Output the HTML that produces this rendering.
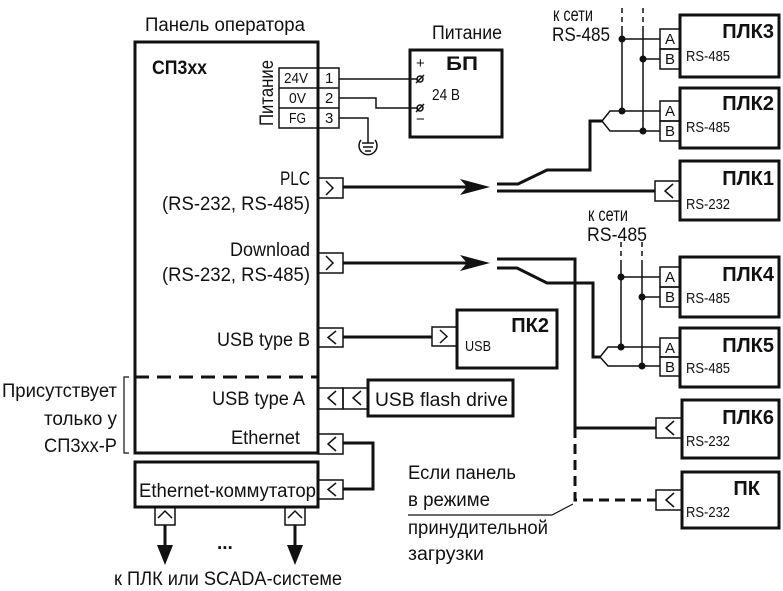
<!DOCTYPE html>
<html><head><meta charset="utf-8"><style>
html,body{margin:0;padding:0;background:#fff;}
svg{display:block;}
text{font-family:"Liberation Sans Narrow","Liberation Sans",sans-serif;fill:#111;}
.b{font-weight:bold;}
</style></head><body>
<svg width="783" height="591" viewBox="0 0 783 591" xmlns="http://www.w3.org/2000/svg">
<g stroke="#111" fill="none" stroke-width="1.5">
<rect x="135" y="42" width="183" height="411" stroke-width="3"/>
<line x1="135" y1="377" x2="318" y2="377" stroke-width="3" stroke-dasharray="14,8"/>
<rect x="135" y="462" width="183" height="45" stroke-width="3"/>
<polyline points="129,377 124,377 124,453 129,453" stroke-width="1.2"/>
<rect x="279" y="68" width="60" height="60"/>
<line x1="279" y1="88" x2="339" y2="88"/><line x1="279" y1="108" x2="339" y2="108"/>
<line x1="318" y1="42" x2="318" y2="130" stroke-width="3"/>
<line x1="339" y1="79" x2="418" y2="79"/>
<polyline points="339,98 376,98 376,108 418,108"/>
<polyline points="339,118 368,118 368,143"/>
<path d="M361,140 A9,9 0 1,0 375,140"/>
<line x1="362" y1="143" x2="374" y2="143"/><line x1="363" y1="147" x2="373" y2="147"/><line x1="365" y1="151" x2="371" y2="151"/>
<rect x="410" y="50" width="92" height="87" stroke-width="3"/>
<circle cx="420" cy="79" r="3"/><line x1="416" y1="83" x2="424" y2="75"/>
<circle cx="420" cy="108" r="3"/><line x1="416" y1="112" x2="424" y2="104"/>
<rect x="318" y="178" width="25" height="20"/><polyline points="326,181 333,188 326,195"/>
<rect x="318" y="253" width="25" height="20"/><polyline points="326,256 333,263 326,270"/>
<rect x="318" y="328" width="25" height="19"/><polyline points="336,331 328,337.5 336,344"/>
<rect x="318" y="388" width="25" height="21"/><polyline points="336,391 328,398 336,405"/>
<rect x="343" y="388" width="25" height="21"/><polyline points="361,391 353,398 361,405"/>
<rect x="318" y="434" width="25" height="20"/><polyline points="336,437 328,444 336,451"/>
<rect x="318" y="480" width="25" height="19"/><polyline points="336,483 328,489.5 336,496"/>
<rect x="155" y="507" width="20" height="18"/><polyline points="158,518 165,511 172,518"/>
<rect x="285" y="507" width="20" height="18"/><polyline points="288,518 295,511 302,518"/>
<polyline points="343,443 373,443 373,489 343,489" stroke-width="3"/>
<line x1="165" y1="525" x2="165" y2="548" stroke-width="3"/>
<line x1="295" y1="525" x2="295" y2="548" stroke-width="3"/>
<rect x="368" y="380" width="145" height="36" stroke-width="3"/>
<line x1="343" y1="337" x2="432" y2="337" stroke-width="3"/>
<rect x="432" y="327" width="25" height="19"/><polyline points="440,330 447,336.5 440,343"/>
<rect x="457" y="310" width="100" height="58" stroke-width="3"/>
<line x1="343" y1="187" x2="470" y2="187" stroke-width="3"/>
<polyline points="497,184 518,184 547,170 590,170 590,121 602,121" stroke-width="3"/>
<polyline points="602,121 610,111 660,111"/>
<polyline points="602,121 610,131 660,131"/>
<line x1="497" y1="191" x2="655" y2="191" stroke-width="3"/>
<line x1="622" y1="8" x2="622" y2="30" stroke-dasharray="5,4"/>
<line x1="643" y1="8" x2="643" y2="30" stroke-dasharray="5,4"/>
<line x1="622" y1="30" x2="622" y2="111"/><line x1="643" y1="30" x2="643" y2="131"/>
<line x1="622" y1="39" x2="660" y2="39"/><line x1="643" y1="59" x2="660" y2="59"/>
<rect x="660" y="29" width="20" height="20"/><rect x="660" y="49" width="20" height="20"/>
<rect x="680" y="15" width="99" height="62" stroke-width="3"/>
<rect x="660" y="101" width="20" height="20"/><rect x="660" y="121" width="20" height="20"/>
<rect x="680" y="88" width="99" height="60" stroke-width="3"/>
<rect x="655" y="181" width="25" height="20"/><polyline points="673,184 665,191 673,198"/>
<rect x="680" y="161" width="99" height="59" stroke-width="3"/>
<line x1="343" y1="263" x2="470" y2="263" stroke-width="3"/>
<polyline points="497,259 575,259 575,428 656,428" stroke-width="3"/>
<polyline points="575,428 575,500 656,500" stroke-width="3" stroke-dasharray="10,6"/>
<polyline points="497,268 517,268 547,283 593,283 593,357 600,357" stroke-width="3"/>
<polyline points="600,357 608,347 660,347"/>
<polyline points="600,357 608,366 660,366"/>
<line x1="621" y1="242" x2="621" y2="262" stroke-dasharray="5,4"/>
<line x1="642" y1="242" x2="642" y2="262" stroke-dasharray="5,4"/>
<line x1="621" y1="262" x2="621" y2="347"/><line x1="642" y1="262" x2="642" y2="366"/>
<line x1="621" y1="277" x2="660" y2="277"/><line x1="642" y1="297" x2="660" y2="297"/>
<rect x="660" y="267" width="20" height="20"/><rect x="660" y="287" width="20" height="20"/>
<rect x="680" y="257" width="99" height="60" stroke-width="3"/>
<rect x="660" y="338" width="20" height="19"/><rect x="660" y="357" width="20" height="19"/>
<rect x="680" y="328" width="99" height="59" stroke-width="3"/>
<rect x="656" y="418" width="26" height="20"/><polyline points="674,421 666,428 674,435"/>
<rect x="682" y="400" width="97" height="58" stroke-width="3"/>
<rect x="656" y="490" width="26" height="20"/><polyline points="674,493 666,500 674,507"/>
<rect x="682" y="472" width="97" height="56" stroke-width="3"/>
<polyline points="408,515 552,515 573,504" stroke-width="1.2"/>
</g>
<g fill="#111">
<polygon points="460,179 490,187 460,195 467,187"/>
<polygon points="460,255 490,263 460,271 467,263"/>
<polygon points="157,545 173,545 165,565"/>
<polygon points="287,545 303,545 295,565"/>
<circle cx="622" cy="39" r="3.5"/><circle cx="643" cy="59" r="3.5"/>
<circle cx="622" cy="111" r="3.5"/><circle cx="643" cy="131" r="3.5"/>
<circle cx="621" cy="277" r="3.5"/><circle cx="642" cy="297" r="3.5"/>
<circle cx="621" cy="347" r="3.5"/><circle cx="642" cy="366" r="3.5"/>
</g>
<g font-size="19">
<text x="145" y="31" textLength="160" lengthAdjust="spacingAndGlyphs">Панель оператора</text>
<text x="152" y="74" class="b" textLength="55" lengthAdjust="spacingAndGlyphs">СП3xx</text>
<text transform="translate(273,126) rotate(-90)" textLength="66" lengthAdjust="spacingAndGlyphs">Питание</text>
<text x="432" y="39" textLength="70" lengthAdjust="spacingAndGlyphs">Питание</text>
<text x="446" y="70" class="b" textLength="32" lengthAdjust="spacingAndGlyphs">БП</text>
<text x="310" y="185" text-anchor="end" textLength="30" lengthAdjust="spacingAndGlyphs">PLC</text>
<text x="310" y="210" text-anchor="end" textLength="148" lengthAdjust="spacingAndGlyphs">(RS-232, RS-485)</text>
<text x="310" y="256" text-anchor="end" textLength="80" lengthAdjust="spacingAndGlyphs">Download</text>
<text x="310" y="281" text-anchor="end" textLength="148" lengthAdjust="spacingAndGlyphs">(RS-232, RS-485)</text>
<text x="310" y="346" text-anchor="end" textLength="93" lengthAdjust="spacingAndGlyphs">USB type B</text>
<text x="305" y="405" text-anchor="end" textLength="93" lengthAdjust="spacingAndGlyphs">USB type A</text>
<text x="300" y="444" text-anchor="end" textLength="69" lengthAdjust="spacingAndGlyphs">Ethernet</text>
<text x="139" y="497" textLength="177" lengthAdjust="spacingAndGlyphs">Ethernet-коммутатор</text>
<text x="375" y="406" textLength="133" lengthAdjust="spacingAndGlyphs">USB flash drive</text>
<text x="117" y="397" text-anchor="end" textLength="115" lengthAdjust="spacingAndGlyphs">Присутствует</text>
<text x="117" y="425" text-anchor="end" textLength="73" lengthAdjust="spacingAndGlyphs">только у</text>
<text x="117" y="452" text-anchor="end" textLength="73" lengthAdjust="spacingAndGlyphs">СП3xx-P</text>
<text x="114" y="585" textLength="228" lengthAdjust="spacingAndGlyphs">к ПЛК или SCADA-системе</text>
<text x="217" y="549" class="b">...</text>
<text x="553" y="21" textLength="40" lengthAdjust="spacingAndGlyphs">к сети</text>
<text x="552" y="41" textLength="58" lengthAdjust="spacingAndGlyphs">RS-485</text>
<text x="588" y="221" textLength="40" lengthAdjust="spacingAndGlyphs">к сети</text>
<text x="587" y="241" textLength="60" lengthAdjust="spacingAndGlyphs">RS-485</text>
<text x="408" y="479" textLength="108" lengthAdjust="spacingAndGlyphs">Если панель</text>
<text x="408" y="506" textLength="82" lengthAdjust="spacingAndGlyphs">в режиме</text>
<text x="408" y="534" textLength="140" lengthAdjust="spacingAndGlyphs">принудительной</text>
<text x="408" y="560" textLength="76" lengthAdjust="spacingAndGlyphs">загрузки</text>
<text x="432" y="100" font-size="16" textLength="28" lengthAdjust="spacingAndGlyphs">24 В</text>
<text x="416" y="68" font-size="15">+</text>
<text x="416" y="124" font-size="15">−</text>
</g>
<g font-size="15">
<text x="284" y="83" textLength="24" lengthAdjust="spacingAndGlyphs">24V</text><text x="325" y="83">1</text>
<text x="289" y="103" textLength="17" lengthAdjust="spacingAndGlyphs">0V</text><text x="325" y="103">2</text>
<text x="289" y="123" textLength="17" lengthAdjust="spacingAndGlyphs">FG</text><text x="325" y="123">3</text>
<text x="665" y="44">A</text><text x="665" y="64">B</text>
<text x="665" y="116">A</text><text x="665" y="136">B</text>
<text x="665" y="282">A</text><text x="665" y="302">B</text>
<text x="665" y="353">A</text><text x="665" y="372">B</text>
<text x="686" y="61" textLength="44" lengthAdjust="spacingAndGlyphs">RS-485</text>
<text x="686" y="132" textLength="44" lengthAdjust="spacingAndGlyphs">RS-485</text>
<text x="686" y="209" textLength="44" lengthAdjust="spacingAndGlyphs">RS-232</text>
<text x="686" y="303" textLength="44" lengthAdjust="spacingAndGlyphs">RS-485</text>
<text x="686" y="373" textLength="44" lengthAdjust="spacingAndGlyphs">RS-485</text>
<text x="686" y="446" textLength="44" lengthAdjust="spacingAndGlyphs">RS-232</text>
<text x="686" y="517" textLength="44" lengthAdjust="spacingAndGlyphs">RS-232</text>
<text x="465" y="351" textLength="26" lengthAdjust="spacingAndGlyphs">USB</text>
</g>
<g font-size="20">
<text x="774" y="38" text-anchor="end" class="b">ПЛК3</text>
<text x="774" y="110" text-anchor="end" class="b">ПЛК2</text>
<text x="774" y="185" text-anchor="end" class="b">ПЛК1</text>
<text x="774" y="281" text-anchor="end" class="b">ПЛК4</text>
<text x="774" y="352" text-anchor="end" class="b">ПЛК5</text>
<text x="774" y="424" text-anchor="end" class="b">ПЛК6</text>
<text x="760" y="495" text-anchor="end" class="b">ПК</text>
<text x="549" y="332" text-anchor="end" class="b">ПК2</text>
</g>
</svg>
</body></html>
